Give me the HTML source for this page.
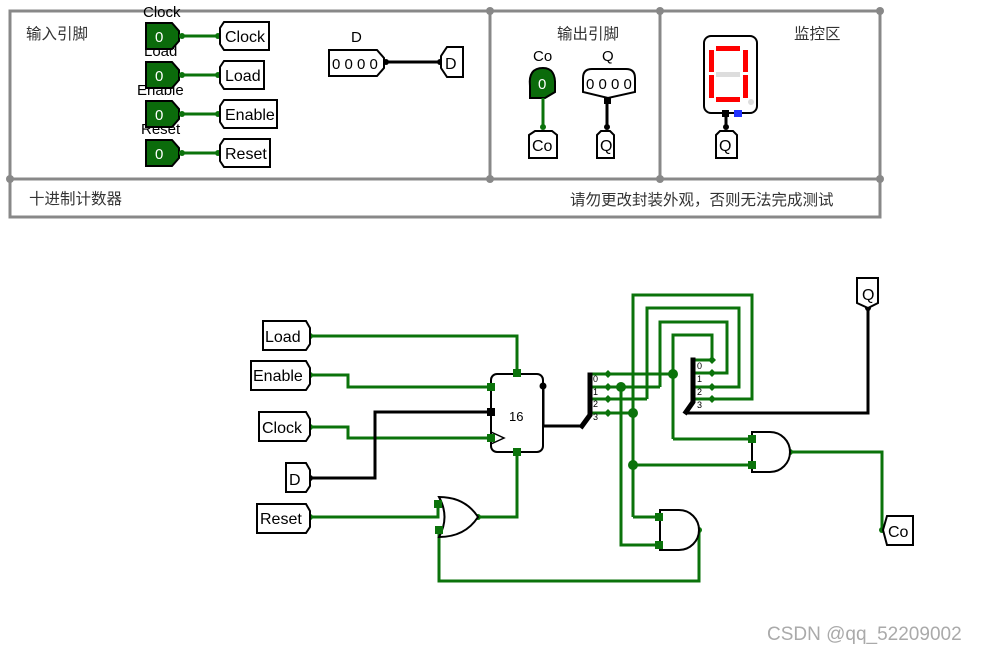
<!DOCTYPE html>
<html><head><meta charset="utf-8"><style>
html,body{margin:0;padding:0;background:#fff;}
svg{display:block;}
text{font-family:"Liberation Sans","Noto Sans CJK SC",sans-serif;}
</style></head><body>
<svg width="982" height="653" viewBox="0 0 982 653" xmlns="http://www.w3.org/2000/svg">
<g stroke="#888" stroke-width="3" fill="none">
<rect x="10" y="11" width="870" height="206"/>
<line x1="10" y1="179" x2="880" y2="179"/>
<line x1="490" y1="11" x2="490" y2="179"/>
<line x1="660" y1="11" x2="660" y2="179"/>
</g>
<g fill="#888">
<circle cx="10" cy="179" r="4"/><circle cx="490" cy="11" r="4"/><circle cx="490" cy="179" r="4"/>
<circle cx="660" cy="11" r="4"/><circle cx="660" cy="179" r="4"/><circle cx="880" cy="179" r="4"/><circle cx="880" cy="11" r="4"/>
</g>
<g font-size="15.5" fill="#333">
<text x="26" y="39">输入引脚</text>
<text x="557" y="39">输出引脚</text>
<text x="794" y="39">监控区</text>
<text x="29" y="204">十进制计数器</text>
<text x="570" y="205">请勿更改封装外观，否则无法完成测试</text>
</g>
<g font-size="15" fill="#000">
<text x="143" y="17">Clock</text><text x="144" y="56">Load</text><text x="137" y="95">Enable</text><text x="141" y="134">Reset</text>
</g>
<g stroke="#000" stroke-width="2">
<path d="M146,23 H172 L179,31 V41 L172,49 H146 Z" fill="#0b6b0b"/>
<path d="M146,62 H172 L179,70 V80 L172,88 H146 Z" fill="#0b6b0b"/>
<path d="M146,101 H172 L179,109 V119 L172,127 H146 Z" fill="#0b6b0b"/>
<path d="M146,140 H172 L179,148 V158 L172,166 H146 Z" fill="#0b6b0b"/>
</g>
<g fill="#fff" font-size="15"><text x="155" y="42">0</text><text x="155" y="81">0</text><text x="155" y="120">0</text><text x="155" y="159">0</text></g>
<g stroke="#0b730b" stroke-width="3"><line x1="179" y1="36" x2="218" y2="36"/><line x1="179" y1="75" x2="218" y2="75"/><line x1="179" y1="114" x2="218" y2="114"/><line x1="179" y1="153" x2="218" y2="153"/></g>
<g fill="#0b730b"><circle cx="182" cy="36" r="3"/><circle cx="218" cy="36" r="3"/><circle cx="182" cy="75" r="3"/><circle cx="218" cy="75" r="3"/><circle cx="182" cy="114" r="3"/><circle cx="218" cy="114" r="3"/><circle cx="182" cy="153" r="3"/><circle cx="218" cy="153" r="3"/></g>
<g stroke="#000" stroke-width="2" fill="#fff">
<path d="M224,22 H269 V50 H224 L220,44 V28 Z"/>
<path d="M224,61 H264 V89 H224 L220,83 V67 Z"/>
<path d="M224,100 H277 V128 H224 L220,122 V106 Z"/>
<path d="M224,139 H270 V167 H224 L220,161 V145 Z"/>
</g>
<g font-size="16"><text x="225" y="42">Clock</text><text x="225" y="81">Load</text><text x="225" y="120">Enable</text><text x="225" y="159">Reset</text></g>
<text x="351" y="42" font-size="15">D</text>
<path d="M329,50 H377 L384,58 V68 L377,76 H329 Z" stroke="#000" stroke-width="2" fill="#fff"/>
<text x="332" y="69" font-size="15">0 0 0 0</text>
<line x1="384" y1="62" x2="440" y2="62" stroke="#000" stroke-width="3"/>
<circle cx="386" cy="62" r="3"/><circle cx="440" cy="62" r="3"/>
<path d="M447,47 H463 V77 H447 L441,68 V56 Z" stroke="#000" stroke-width="2" fill="#fff"/>
<text x="445" y="69" font-size="16">D</text>
<text x="533" y="61" font-size="15">Co</text><text x="602" y="61" font-size="15">Q</text>
<path d="M530,98 L530,86 Q528,68 543,68 Q556,68 555,86 L555,92 L545,98 Z" fill="#0b6b0b" stroke="#000" stroke-width="2"/>
<text x="538" y="89" font-size="15" fill="#fff">0</text>
<line x1="543" y1="98" x2="543" y2="127" stroke="#0b730b" stroke-width="3"/><circle cx="543" cy="127" r="3" fill="#0b730b"/>
<path d="M529,135 L535,131 H552 L557,135 V158 H529 Z" stroke="#000" stroke-width="2" fill="#fff"/>
<text x="532" y="151" font-size="16">Co</text>
<path d="M583,92 V78 Q583,69 592,69 H626 Q635,69 635,78 V92 L608,98 Z" stroke="#000" stroke-width="2" fill="#fff"/>
<text x="586" y="89" font-size="15">0 0 0 0</text>
<rect x="604" y="97" width="7" height="7"/>
<line x1="607" y1="100" x2="607" y2="127" stroke="#000" stroke-width="3"/><circle cx="607" cy="127" r="3"/>
<path d="M597,135 L601,131 H610 L614,135 V158 H597 Z" stroke="#000" stroke-width="2" fill="#fff"/>
<text x="600" y="151" font-size="16">Q</text>
<rect x="704" y="36" width="53" height="77" rx="7" stroke="#000" stroke-width="2" fill="#fff"/>
<g fill="#f00"><rect x="716" y="46" width="24" height="5"/><rect x="709" y="50" width="5" height="22"/><rect x="743" y="50" width="5" height="22"/><rect x="709" y="75" width="5" height="23"/><rect x="743" y="75" width="5" height="23"/><rect x="716" y="97" width="24" height="5"/></g>
<rect x="716" y="72" width="24" height="5" fill="#ddd"/><circle cx="751" cy="102" r="3" fill="#ddd"/>
<rect x="722" y="110" width="7" height="7"/><rect x="734" y="110" width="8" height="7" fill="#2233ff"/>
<line x1="726" y1="116" x2="726" y2="127" stroke="#000" stroke-width="3"/><circle cx="726" cy="127" r="3"/>
<path d="M716,135 L720,131 H733 L737,135 V158 H716 Z" stroke="#000" stroke-width="2" fill="#fff"/>
<text x="719" y="151" font-size="16">Q</text>

<g stroke="#0b730b" stroke-width="3" fill="none">
<polyline points="310,336 517,336 517,373"/>
<polyline points="310,375 348,375 348,387 491,387"/>
<polyline points="310,427 348,427 348,438 491,438"/>
<polyline points="310,517 438,517 438,504"/>
<polyline points="478,517 517,517 517,452"/>
<polyline points="590,374 673,374"/>
<polyline points="590,387 660,387"/>
<polyline points="590,399 647,399"/>
<polyline points="590,413 633,413"/>
<polyline points="673,439 673,335 712,335 712,360 693,360"/>
<polyline points="660,387 660,322 727,322 727,373 693,373"/>
<polyline points="647,399 647,308 739,308 739,387 693,387"/>
<polyline points="633,517 633,295 752,295 752,399 693,399"/>
<polyline points="673,439 752,439"/>
<polyline points="633,465 752,465"/>
<polyline points="633,517 659,517"/>
<polyline points="621,387 621,545 659,545"/>
<polyline points="790,452 882,452 882,530"/>
<polyline points="699,530 699,581 439,581 439,530"/>
</g>
<g stroke="#000" stroke-width="3" fill="none">
<polyline points="310,478 375,478 375,412 491,412"/>
<polyline points="543,386 543,426 580,426"/>
<polyline points="686,413 868,413 868,308"/>
</g>
<g stroke="#000" stroke-width="5" fill="none" stroke-linecap="square">
<polyline points="590,375 590,415 582,426"/>
<polyline points="693,360 693,402 686,412"/>
</g>
<g font-size="9"><text x="593" y="382">0</text><text x="593" y="395">1</text><text x="593" y="407">2</text><text x="593" y="420">3</text>
<text x="697" y="369">0</text><text x="697" y="382">1</text><text x="697" y="395">2</text><text x="697" y="408">3</text></g>
<g fill="#0b730b">
<circle cx="621" cy="387" r="5"/><circle cx="633" cy="413" r="5"/><circle cx="673" cy="374" r="5"/><circle cx="633" cy="465" r="5"/>
<path d="M608,370 l4,4 -4,4 -4,-4z"/><path d="M608,383 l4,4 -4,4 -4,-4z"/><path d="M608,395 l4,4 -4,4 -4,-4z"/><path d="M608,409 l4,4 -4,4 -4,-4z"/>
<path d="M712,356 l4,4 -4,4 -4,-4z"/><path d="M712,369 l4,4 -4,4 -4,-4z"/><path d="M712,383 l4,4 -4,4 -4,-4z"/><path d="M712,395 l4,4 -4,4 -4,-4z"/>
<circle cx="310" cy="336" r="3"/><circle cx="310" cy="375" r="3"/><circle cx="310" cy="427" r="3"/><circle cx="310" cy="517" r="3"/>
<circle cx="478" cy="517" r="3"/><circle cx="790" cy="452" r="3"/><circle cx="699" cy="530" r="3"/><circle cx="882" cy="530" r="3"/>
</g>
<circle cx="310" cy="478" r="3"/><circle cx="868" cy="308" r="3"/>
<g stroke="#000" stroke-width="2" fill="#fff">
<path d="M263,321 H306 L310,328 V344 L306,350 H263 Z"/>
<path d="M251,361 H306 L310,368 V384 L306,390 H251 Z"/>
<path d="M259,412 H306 L310,419 V435 L306,441 H259 Z"/>
<path d="M286,463 H306 L310,470 V486 L306,492 H286 Z"/>
<path d="M257,504 H306 L310,511 V527 L306,533 H257 Z"/>
<path d="M857,278 H878 V303 L868,308 L857,303 Z"/>
<path d="M887,516 H913 V545 H887 L883,530 Z"/>
</g>
<g font-size="16"><text x="265" y="342">Load</text><text x="253" y="381">Enable</text><text x="262" y="433">Clock</text><text x="289" y="485">D</text><text x="260" y="524">Reset</text><text x="862" y="300">Q</text><text x="888" y="537">Co</text></g>
<rect x="491" y="374" width="52" height="78" rx="6" stroke="#000" stroke-width="2" fill="#fff"/>
<text x="509" y="421" font-size="13">16</text>
<path d="M491,432 L504,438 L491,444" stroke="#000" stroke-width="1.5" fill="none"/>
<g fill="#0b730b"><rect x="513" y="369" width="8" height="8"/><rect x="487" y="383" width="8" height="8"/><rect x="487" y="434" width="8" height="8"/><rect x="513" y="448" width="8" height="8"/></g>
<rect x="487" y="408" width="8" height="8"/><circle cx="543" cy="386" r="3.5"/>
<g stroke="#000" stroke-width="2" fill="#fff">
<path d="M439,497 Q465,497 478,517 Q465,537 439,537 Q450,517 439,497 Z"/>
<path d="M752,432 H770 A20,20 0 0 1 770,472 H752 Z"/>
<path d="M660,510 H679 A20,20 0 0 1 679,550 H660 Z"/>
</g>
<g fill="#0b730b"><rect x="434" y="500" width="8" height="8"/><rect x="435" y="526" width="8" height="8"/>
<rect x="748" y="435" width="8" height="8"/><rect x="748" y="461" width="8" height="8"/>
<rect x="655" y="513" width="8" height="8"/><rect x="655" y="541" width="8" height="8"/></g>
<text x="767" y="640" font-size="19" fill="#aaa">CSDN @qq_52209002</text>
</svg>
</body></html>
